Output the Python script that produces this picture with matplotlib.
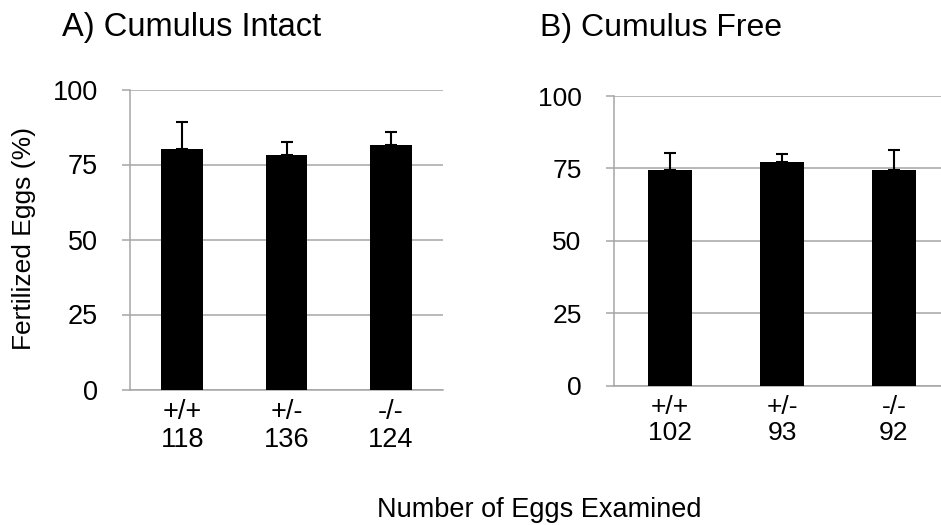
import matplotlib
matplotlib.use('Agg')
import matplotlib.pyplot as plt

plt.rcParams['font.family'] = ['Liberation Sans', 'DejaVu Sans']

genotypes = ['+/+', '+/-', '-/-']

intact_n = [118, 136, 124]
intact_mean = [80.2, 78.3, 81.4]
intact_err = [8.9, 4.1, 4.5]

free_n = [102, 93, 92]
free_mean = [74.5, 77.2, 74.5]
free_err = [5.7, 2.7, 6.7]

yticks = [0, 25, 50, 75, 100]
grid_color = '#a6a6a6'

W, H = 941, 525
fig = plt.figure(figsize=(W / 100, H / 100), dpi=100)


def panel(rect, means, errs, counts, fs):
    left, top, right, bottom = rect
    ax = fig.add_axes([left / W, (H - bottom) / H, (right - left) / W, (bottom - top) / H])
    x = range(len(genotypes))
    ax.bar(x, means, width=0.4, color='black', zorder=3)
    ax.errorbar(x, means, yerr=[[0] * len(errs), errs], fmt='none', ecolor='black',
                elinewidth=1.5, capsize=4, capthick=1.5, zorder=4)
    ax.set_xlim(-0.5, len(genotypes) - 0.5)
    ax.set_ylim(0, 100)
    ax.set_yticks(yticks)
    ax.yaxis.grid(True, color=grid_color, linewidth=1.1, zorder=0)
    ax.set_axisbelow(True)
    for s in ['top', 'right']:
        ax.spines[s].set_visible(False)
    for s in ['left', 'bottom']:
        ax.spines[s].set_color(grid_color)
        ax.spines[s].set_linewidth(1.1)
    ax.tick_params(axis='y', length=5.8, width=1.1, color=grid_color, pad=17.5, labelsize=fs)
    ax.tick_params(axis='x', length=0, pad=6.5, labelsize=fs)
    ax.set_xticks(list(x))
    ax.set_xticklabels([f'{g}\n{n}' for g, n in zip(genotypes, counts)], linespacing=1.1)
    return ax


ax1 = panel((130, 89.5, 443, 389.5), intact_mean, intact_err, intact_n, 19.5)
ax2 = panel((614, 96, 950, 385.7), free_mean, free_err, free_n, 19)

fig.text(62 / W, (H - 36) / H, 'A) Cumulus Intact', fontsize=23.5, ha='left', va='baseline')
fig.text(540 / W, (H - 36) / H, 'B) Cumulus Free', fontsize=23, ha='left', va='baseline')
fig.text(24 / W, (H - 238) / H, 'Fertilized Eggs (%)', fontsize=19, rotation=90,
         ha='center', va='center')
fig.text(539 / W, (H - 516.7) / H, 'Number of Eggs Examined', fontsize=19.5,
         ha='center', va='baseline')

fig.savefig('out.png', dpi=100)
